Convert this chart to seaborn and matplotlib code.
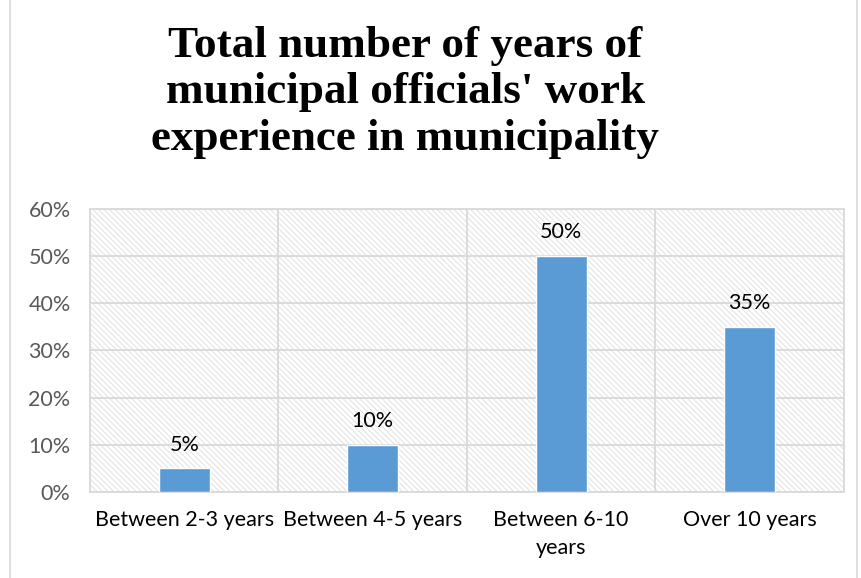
import matplotlib
matplotlib.use("Agg")
import matplotlib.pyplot as plt
from matplotlib.patches import Rectangle
from matplotlib.ticker import MultipleLocator, PercentFormatter
import seaborn as sns
import pandas as pd

# data
categories = ["Between 2-3 years", "Between 4-5 years", "Between 6-10\nyears", "Over 10 years"]
shares = [5, 10, 50, 35]
title = "Total number of years of\nmunicipal officials' work\nexperience in municipality"

sns.set_style("white")
plt.rcParams['font.family'] = ['Lato', 'DejaVu Sans']
plt.rcParams['hatch.linewidth'] = 0.6
plt.rcParams['hatch.color'] = '#DCDCDC'

df = pd.DataFrame({'cat': categories, 'val': shares})

fig = plt.figure(figsize=(8.62, 5.78), dpi=100)
ax = fig.add_axes([0.1044, 0.1488, 0.8746, 0.4896])

# hatched plot background
ax.add_patch(Rectangle((0, 0), 1, 1, transform=ax.transAxes, facecolor='white',
                       edgecolor='#DCDCDC', hatch='\\\\\\\\\\\\', linewidth=0, zorder=0))

sns.barplot(data=df, x='cat', y='val', color='#5B9BD5', width=0.27, saturation=1, ax=ax, zorder=3)

ax.set_ylim(0, 60)
ax.set_xlim(-0.5, len(categories) - 0.5)
ax.yaxis.set_major_locator(MultipleLocator(10))
ax.yaxis.set_major_formatter(PercentFormatter(decimals=0))
ax.grid(axis='y', color='#D9D9D9', linewidth=1.3, zorder=1)
for b in [0.5, 1.5, 2.5]:
    ax.axvline(b, color='#D9D9D9', linewidth=1.3, zorder=1)
for s in ax.spines.values():
    s.set_color('#D9D9D9')
    s.set_linewidth(1.3)
ax.set_axisbelow(True)

ax.set_xlabel('')
ax.set_ylabel('')
ax.tick_params(axis='y', length=0, pad=14, labelsize=15.5, labelcolor='#595959')
ax.tick_params(axis='x', length=0, pad=13, labelsize=15.5, labelcolor='#000000')
for lbl in ax.get_xticklabels():
    lbl.set_verticalalignment('top')
    lbl.set_linespacing(1.5)

ax.bar_label(ax.containers[0], labels=[f"{v}%" for v in shares], padding=10, fontsize=15.5,
             color='black')

fig.text(0.47, 0.84, title, ha='center', va='center', fontsize=32.5, fontweight='bold',
         color='black', family=['Liberation Serif', 'DejaVu Serif'], linespacing=1.2)

# chart border
fig.add_artist(Rectangle((0.012, -0.01), 0.982, 1.02, transform=fig.transFigure, fill=False,
                         edgecolor='#D9D9D9', linewidth=1.2))

fig.savefig('out.png', dpi=100)
